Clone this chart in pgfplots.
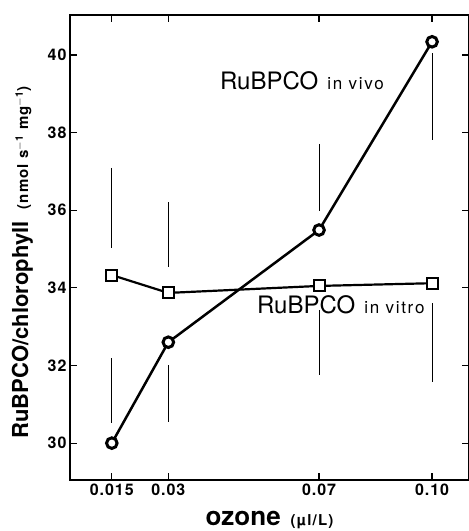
\documentclass[border=0pt]{standalone}
\usepackage{fontspec}
\setmainfont{TeX Gyre Heros}
\usepackage{pgfplots}
\pgfplotsset{compat=1.18}

\newcommand{\smalllab}{\fontsize{15}{15}\selectfont\addfontfeature{LetterSpace=8}}

\begin{document}
\begin{tikzpicture}
% page frame: axis box is 399 x 465, labels take the room left and below
\useasboundingbox (-70pt,-51pt) rectangle (399pt,480pt);
\begin{axis}[
    at={(0pt,0pt)}, anchor=south west,
    scale only axis,
    width=399pt, height=465pt,
    xmin=0.0039, xmax=0.1098,
    ymin=29.05, ymax=41.03,
    axis line style={line width=2.5pt},
    every tick/.style={black, line width=1.2pt},
    major tick length=7pt,
    tick align=inside,
    xtick={0.015,0.03,0.07,0.1},
    xticklabels={0.015,0.03,0.07,0.10},
    ytick={30,32,34,36,38,40},
    yticklabels={30,32,34,36,38,40},
    ticklabel style={font=\fontsize{16}{16}\selectfont\bfseries\addfontfeature{LetterSpace=6}},
    xlabel={\fontsize{26}{26}\selectfont\bfseries ozone\hspace{10pt}\smalllab(µl/L)},
    xlabel style={at={(axis description cs:0.5,-0.0968)}, anchor=base},
    ylabel={\fontsize{22}{22}\selectfont\bfseries RuBPCO/chlorophyll\hspace{12pt}\smalllab(nmol s$^{\mathbf{-1}}$ mg$^{\mathbf{-1}}$)},
    ylabel style={at={(axis description cs:-0.105,0.468)}, anchor=base},
    clip=false,
]
% error bars, drawn with a gap round each point
\addplot[line width=1pt, no marks, unbounded coords=jump] coordinates {
    (0.015,37.09) (0.015,35.03) (0.015,nan)
    (0.015,32.19) (0.015,30.52) (0.015,nan)
    (0.03,36.21) (0.03,34.54) (0.03,nan)
    (0.03,32.01) (0.03,30.54) (0.03,nan)
    (0.07,37.71) (0.07,35.98) (0.07,nan)
    (0.07,33.43) (0.07,31.75) (0.07,nan)
    (0.1,40.05) (0.1,37.81) (0.1,nan)
    (0.1,33.61) (0.1,31.57)
};
% RuBPCO in vitro
\addplot[line width=2.2pt, mark=square*, mark size=5.5pt,
    mark options={line width=2pt, fill=white}] coordinates {
    (0.015,34.33) (0.03,33.87) (0.07,34.05) (0.1,34.12)
};
% RuBPCO in vivo
\addplot[line width=2.5pt, mark=*, mark size=5.3pt,
    mark options={line width=3pt, fill=white}] coordinates {
    (0.015,30.0) (0.03,32.6) (0.07,35.49) (0.1,40.34)
};
\node[anchor=base west, inner sep=0pt] at (axis cs:0.0437,39.10)
    {\fontsize{24}{24}\selectfont RuBPCO\hspace{9pt}\fontsize{17}{17}\selectfont\addfontfeature{LetterSpace=10}in vivo};
\node[anchor=base west, inner sep=0pt] at (axis cs:0.0535,33.35)
    {\fontsize{24}{24}\selectfont RuBPCO\hspace{9pt}\fontsize{17}{17}\selectfont\addfontfeature{LetterSpace=10}in vitro};
\end{axis}
\end{tikzpicture}
\end{document}
